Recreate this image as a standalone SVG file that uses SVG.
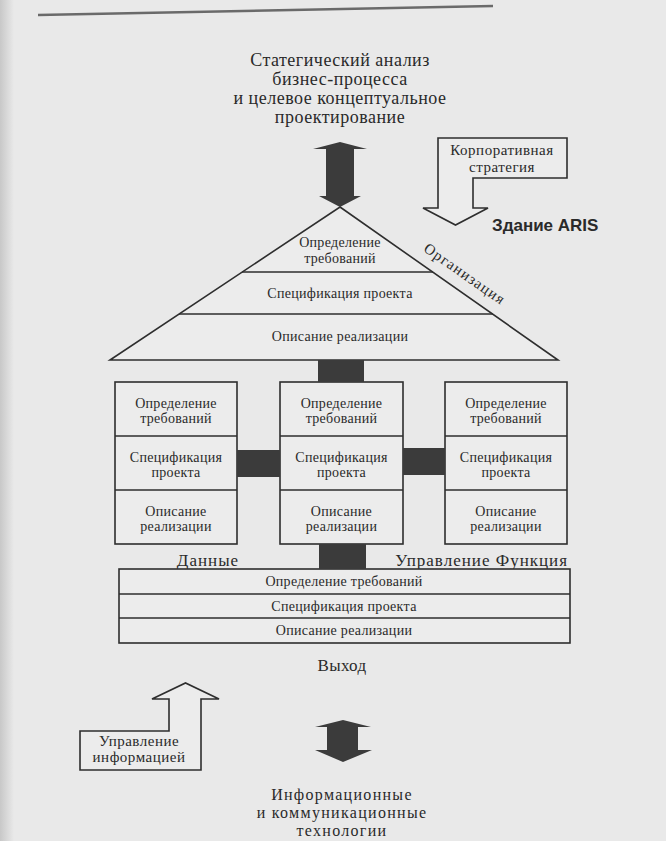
<svg xmlns="http://www.w3.org/2000/svg" width="666" height="841" viewBox="0 0 666 841">
<defs>
<linearGradient id="gutter" x1="0" y1="0" x2="1" y2="0">
<stop offset="0" stop-color="#c8c8c8"/>
<stop offset="1" stop-color="#e9e9e9"/>
</linearGradient>
</defs>
<style>
.bg{fill:#e9e9e9}
.sh{fill:#ececec;stroke:#2e2e2e;stroke-width:1.6}
.ln{stroke:#2e2e2e;stroke-width:1.6;fill:none}
.blk{fill:#3b3b3b}
.t{font-family:"Liberation Serif","Times New Roman",serif;fill:#2a2a2a;text-anchor:middle}
.s14{font-size:14px;letter-spacing:0.3px}
.s15{font-size:15px;letter-spacing:0.5px}
.s16{font-size:16px;letter-spacing:1.3px}
.s17{font-size:17px;letter-spacing:1px}
.s18{font-size:18px;letter-spacing:0.5px}
.b{font-family:"Liberation Sans",Arial,sans-serif;font-weight:bold;font-size:17px;fill:#2a2a2a}
</style>
<rect class="bg" x="0" y="0" width="666" height="841"/>
<rect x="0" y="0" width="14" height="841" fill="url(#gutter)"/>
<path d="M38,15 L493,6" stroke="#6a6a6a" stroke-width="2.5" fill="none"/>

<g id="top-label">
<text class="t s18" x="340" y="66">Статегический анализ</text>
<text class="t s18" x="340" y="85">бизнес-процесса</text>
<text class="t s18" x="340" y="104">и целевое концептуальное</text>
<text class="t s18" x="340" y="123">проектирование</text>
</g>

<g id="corporate-strategy">
<polygon class="sh" points="438,138 567,138 567,178 473,178 473,208 488,208 455.5,225 423,208 438,208"/>
<text class="t s15" x="502" y="155">Корпоративная</text>
<text class="t s15" x="502" y="172">стратегия</text>
</g>

<g id="title">
<text class="b" x="492" y="231">Здание ARIS</text>
</g>

<g id="organization">
<polygon class="sh" points="340,207 558,360 110,360"/>
<line class="ln" x1="242" y1="272" x2="433" y2="272"/>
<line class="ln" x1="179" y1="314" x2="493" y2="314"/>
<text class="t s14" x="340" y="247">Определение</text>
<text class="t s14" x="340" y="263">требований</text>
<text class="t s14" x="340" y="298">Спецификация проекта</text>
<text class="t s14" x="340" y="341">Описание реализации</text>
<text class="t s15" x="462" y="278" transform="rotate(35 462 278)" style="letter-spacing:1.2px">Организация</text>
</g>

<g id="data">
<rect class="sh" x="115" y="382" width="122" height="162"/>
<line class="ln" x1="115" y1="436" x2="237" y2="436"/>
<line class="ln" x1="115" y1="490" x2="237" y2="490"/>
<text class="t s14" x="176" y="408">Определение</text>
<text class="t s14" x="176" y="423">требований</text>
<text class="t s14" x="176" y="462">Спецификация</text>
<text class="t s14" x="176" y="477">проекта</text>
<text class="t s14" x="176" y="516">Описание</text>
<text class="t s14" x="176" y="531">реализации</text>
</g>

<g id="control">
<rect class="sh" x="280" y="382" width="123" height="162"/>
<line class="ln" x1="280" y1="436" x2="403" y2="436"/>
<line class="ln" x1="280" y1="490" x2="403" y2="490"/>
<text class="t s14" x="341.5" y="408">Определение</text>
<text class="t s14" x="341.5" y="423">требований</text>
<text class="t s14" x="341.5" y="462">Спецификация</text>
<text class="t s14" x="341.5" y="477">проекта</text>
<text class="t s14" x="341.5" y="516">Описание</text>
<text class="t s14" x="341.5" y="531">реализации</text>
</g>

<g id="function">
<rect class="sh" x="445" y="382" width="122" height="162"/>
<line class="ln" x1="445" y1="436" x2="567" y2="436"/>
<line class="ln" x1="445" y1="490" x2="567" y2="490"/>
<text class="t s14" x="506" y="408">Определение</text>
<text class="t s14" x="506" y="423">требований</text>
<text class="t s14" x="506" y="462">Спецификация</text>
<text class="t s14" x="506" y="477">проекта</text>
<text class="t s14" x="506" y="516">Описание</text>
<text class="t s14" x="506" y="531">реализации</text>
</g>

<g id="labels-mid">
<text class="t s17" x="208" y="566">Данные</text>
<text class="t s17" x="568" y="566" style="text-anchor:end">Управление Функция</text>
</g>

<g id="output">
<rect class="sh" x="119" y="569" width="451" height="74"/>
<line class="ln" x1="119" y1="594" x2="570" y2="594"/>
<line class="ln" x1="119" y1="618" x2="570" y2="618"/>
<text class="t s14" x="344" y="586">Определение требований</text>
<text class="t s14" x="344" y="611">Спецификация проекта</text>
<text class="t s14" x="344" y="635">Описание реализации</text>
<text class="t s17" x="342" y="671" style="letter-spacing:0.3px">Выход</text>
</g>

<g id="information-management">
<polygon class="sh" points="80,731 169,731 169,699 152,699 185.5,683 219,699 201,699 201,770 80,770"/>
<text class="t s15" x="139" y="746">Управление</text>
<text class="t s15" x="139" y="762">информацией</text>
</g>

<g id="ict">
<text class="t s16" x="342" y="800">Информационные</text>
<text class="t s16" x="342" y="818">и коммуникационные</text>
<text class="t s16" x="342" y="836">технологии</text>
</g>

<g id="connectors">
<polygon class="blk" points="340,142 367,149 354,149 354,196 361,196 340,207 319,196 326,196 326,149 313,149"/>
<rect class="blk" x="318" y="360" width="46" height="22"/>
<rect class="blk" x="237" y="450" width="43" height="27"/>
<rect class="blk" x="403" y="448" width="42" height="27"/>
<rect class="blk" x="319" y="544" width="47" height="25"/>
<polygon class="blk" points="343,720 371,727 358,727 358,750 372,750 343,762 315,750 327,750 327,727 315,727"/>
</g>
</svg>
